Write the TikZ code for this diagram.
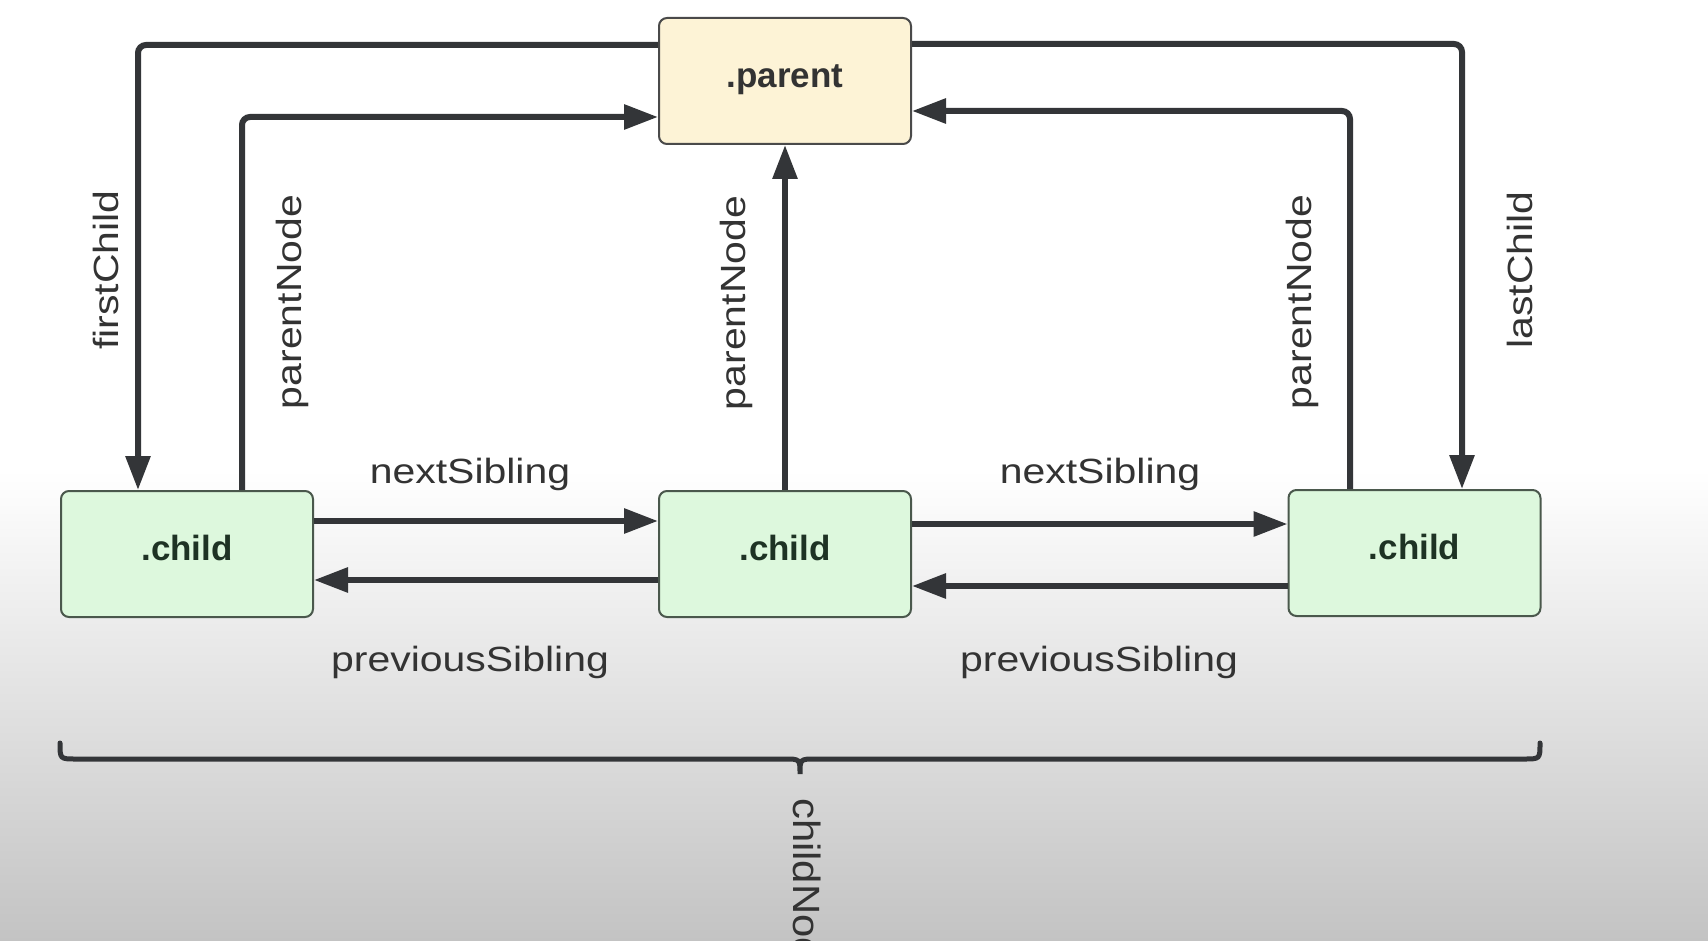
\documentclass[tikz,border=0pt]{standalone}
\usepackage{fontspec}
\usepackage{graphicx}
\setmainfont{Liberation Sans}
\usetikzlibrary{arrows.meta}
\definecolor{lncol}{HTML}{333538}
\definecolor{txtcol}{HTML}{333333}
\definecolor{parfill}{HTML}{FDF3D6}
\definecolor{parline}{HTML}{4A4A4A}
\definecolor{chfill}{HTML}{DDF8DD}
\definecolor{chline}{HTML}{4A584C}
\definecolor{chtext}{HTML}{1E3324}
\definecolor{bggrey}{HTML}{C3C3C3}
\newcommand\lblstretch[1]{\scalebox{1.17}[1]{#1}}
\tikzset{
  box/.style={rectangle, rounded corners=8pt, line width=2pt, minimum width=252pt, minimum height=126pt,
    inner sep=0pt, text height=25pt, text depth=12pt, font=\fontsize{35}{40}\selectfont\bfseries},
  parentbox/.style={box, fill=parfill, draw=parline, text=txtcol},
  childbox/.style={box, fill=chfill, draw=chline, text=chtext},
  conn/.style={draw=lncol, line width=6pt, rounded corners=8pt, -{Triangle[length=34pt,width=24pt]}},
  bracepath/.style={draw=lncol, line width=5pt, line cap=round},
  lbl/.style={inner sep=0pt, text=txtcol, font=\fontsize{35}{40}\selectfont},
}
\begin{document}
\begin{tikzpicture}[x=1pt, y=-1pt]
\useasboundingbox (0,0) rectangle (1708,941);
\clip (0,0) rectangle (1708,941);
% background
\fill[white] (0,0) rectangle (1708,471);
\shade[top color=white, bottom color=bggrey] (0,470) rectangle (1708,941);

% boxes
\node[parentbox] (parent) at (785,81) {.parent};
\node[childbox] (c1) at (187,554) {.child};
\node[childbox] (c2) at (785,554) {.child};
\node[childbox] (c3) at (1414.5,553) {.child};

% routing coordinates
\coordinate (fc) at (138,45);
\coordinate (pn1) at (242,117);
\coordinate (pn3) at (1350,111);
\coordinate (lc) at (1462,44);
\coordinate (ns1) at (0,521);
\coordinate (ps1) at (0,580);
\coordinate (ns2) at (0,524);
\coordinate (ps2) at (0,586);

% connectors
\draw[conn] (parent.west |- fc) -- (fc) -- (c1.north -| fc);
\draw[conn] (c1.north -| pn1) -- (pn1) -- (parent.west |- pn1);
\draw[conn] (c2.north) -- (parent.south);
\draw[conn] (c3.north -| pn3) -- (pn3) -- (parent.east |- pn3);
\draw[conn] (parent.east |- lc) -- (lc) -- (c3.north -| lc);
\draw[conn] (c1.east |- ns1) -- (c2.west |- ns1);
\draw[conn] (c2.west |- ps1) -- (c1.east |- ps1);
\draw[conn] (c2.east |- ns2) -- (c3.west |- ns2);
\draw[conn] (c3.west |- ps2) -- (c2.east |- ps2);

% labels
\node[lbl, rotate=90, anchor=base] (lfc) at (118,270) {\lblstretch{firstChild}};
\node[lbl, rotate=90, anchor=base] (lpn1) at (301,302) {\lblstretch{parentNode}};
\node[lbl, rotate=90, anchor=base] (lpn2) at (745,303) {\lblstretch{parentNode}};
\node[lbl, rotate=90, anchor=base] (lpn3) at (1311,302) {\lblstretch{parentNode}};
\node[lbl, rotate=90, anchor=base] (llc) at (1532,270) {\lblstretch{lastChild}};
\node[lbl, anchor=base] (lns1) at (470,483) {\lblstretch{nextSibling}};
\node[lbl, anchor=base] (lns2) at (1100,483) {\lblstretch{nextSibling}};
\node[lbl, anchor=base] (lps1) at (470,671) {\lblstretch{previousSibling}};
\node[lbl, anchor=base] (lps2) at (1099,671) {\lblstretch{previousSibling}};

% brace
\coordinate (bl) at (60,743);
\coordinate (br) at (1540,743);
\coordinate (bt) at (800,774);
\draw[bracepath] (bl) .. controls (60,759) .. (76,759) -- (784,759)
  .. controls (800,759) .. (bt) .. controls (800,759) .. (816,759)
  -- (1524,759) .. controls (1540,759) .. (br);
\node[lbl, font=\fontsize{38}{42}\selectfont, rotate=-90, anchor=base west] (lcn) at (793,798) {\scalebox{1.1}[1]{childNodes}};
\end{tikzpicture}
\end{document}
